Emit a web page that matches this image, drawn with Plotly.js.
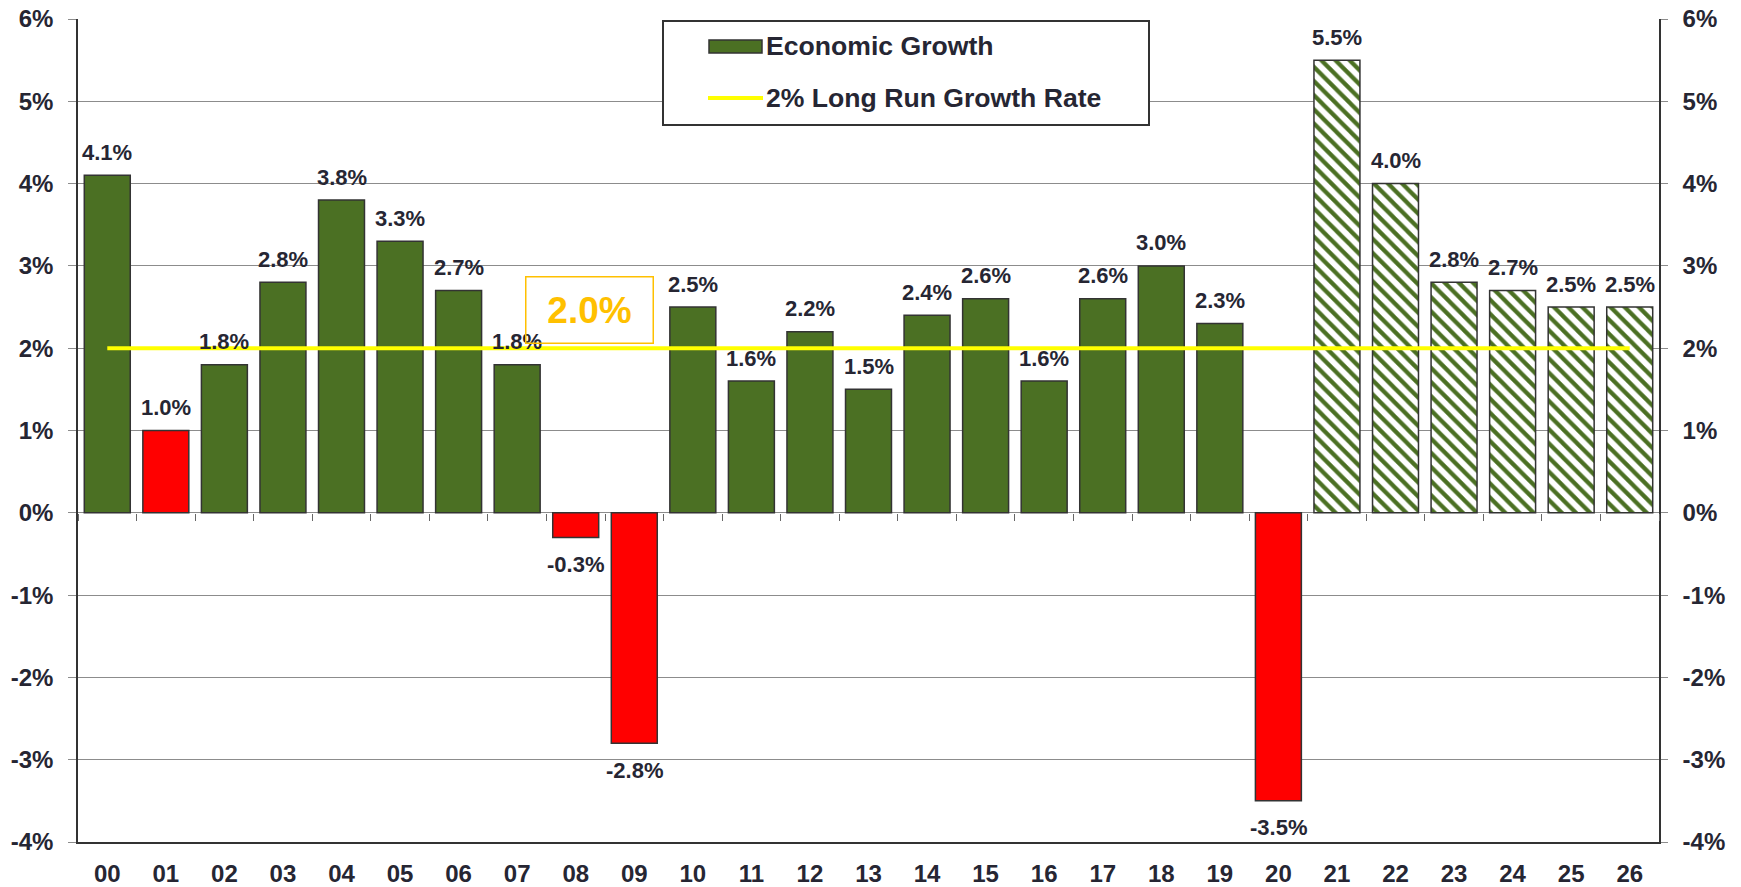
<!DOCTYPE html>
<html><head><meta charset="utf-8">
<script src="https://cdn.plot.ly/plotly-3.0.1.min.js"></script>
<style>html,body{margin:0;padding:0;background:#fff}#chart{width:1741px;height:887px}</style>
</head><body><div id="chart"></div>
<script>
// ---- data ----
const years = ['00','01','02','03','04','05','06','07','08','09','10','11','12','13','14','15','16','17','18','19','20','21','22','23','24','25','26'];
const growth = [4.1, 1.0, 1.8, 2.8, 3.8, 3.3, 2.7, 1.8, -0.3, -2.8, 2.5, 1.6, 2.2, 1.5, 2.4, 2.6, 1.6, 2.6, 3.0, 2.3, -3.5, 5.5, 4.0, 2.8, 2.7, 2.5, 2.5];
const recessionYears = ['01','08','09','20'];
const forecastYears = ['21','22','23','24','25','26'];
const longRunRate = 2.0;
const longRunLabel = '2.0%';
const seriesNames = ['Economic Growth', '2% Long Run Growth Rate'];
const yTickVals = [-4,-3,-2,-1,0,1,2,3,4,5,6];
const yTickText = ['-4%','-3%','-2%','-1%','0%','1%','2%','3%','4%','5%','6%'];

// ---- styles ----
const FONT = '"Liberation Sans", Arial, sans-serif';
const TXT = '#262633';
const GREEN = '#4b7023';
const RED = '#ff0000';
const GRID = '#8c8c8c';
const EDGE = '#333333';
const W = 1741, H = 887, ML = 78, MR = 82, MT = 19, MB = 45;
const px2x = p => (p - ML) / (W - ML - MR);
const px2y = p => (H - MB - p) / (H - MT - MB);

const histIdx = years.map((y, i) => i).filter(i => !forecastYears.includes(years[i]));
const fcIdx = years.map((y, i) => i).filter(i => forecastYears.includes(years[i]));

const traces = [
  {
    type: 'bar', name: seriesNames[0], showlegend: false,
    x: histIdx.map(i => years[i]), y: histIdx.map(i => growth[i]),
    marker: {
      color: histIdx.map(i => recessionYears.includes(years[i]) ? RED : GREEN),
      line: {color: EDGE, width: 1.5}
    },
    hoverinfo: 'x+y'
  },
  {
    type: 'bar', name: seriesNames[0] + ' (forecast)', showlegend: false,
    x: fcIdx.map(i => years[i]), y: fcIdx.map(i => growth[i]),
    marker: {
      color: GREEN,
      line: {color: EDGE, width: 1.5},
      pattern: {shape: '\\', fgcolor: GREEN, bgcolor: '#ffffff', size: 10, solidity: 0.42, fillmode: 'replace'}
    },
    hoverinfo: 'x+y'
  },
  {
    type: 'scatter', mode: 'lines', name: seriesNames[1], showlegend: false,
    x: [years[0], years[years.length - 1]], y: [longRunRate, longRunRate],
    line: {color: '#ffff00', width: 4}
  },
  {
    type: 'scatter', mode: 'none', x: years, y: growth, xaxis: 'x2', yaxis: 'y2',
    showlegend: false, hoverinfo: 'skip'
  }
];

const labelAnns = years.map((y, i) => ({
  x: y, y: growth[i], xref: 'x', yref: 'y',
  text: growth[i].toFixed(1) + '%',
  showarrow: false, yanchor: 'middle',
  yshift: growth[i] >= 0 ? 23 : -27,
  font: {family: FONT, size: 22, color: TXT, weight: 700}
}));

// legend (drawn box, swatches and texts)
const legendShapes = [
  {type: 'rect', xref: 'paper', yref: 'paper', x0: px2x(663), x1: px2x(1149), y0: px2y(125), y1: px2y(21),
   fillcolor: '#ffffff', line: {color: EDGE, width: 2}, layer: 'above'},
  {type: 'rect', xref: 'paper', yref: 'paper', x0: px2x(709), x1: px2x(762), y0: px2y(53), y1: px2y(40),
   fillcolor: GREEN, line: {color: EDGE, width: 1.5}, layer: 'above'},
  {type: 'line', xref: 'paper', yref: 'paper', x0: px2x(708), x1: px2x(763), y0: px2y(98), y1: px2y(98),
   line: {color: '#ffff00', width: 4}, layer: 'above'}
];
const legendAnns = seriesNames.map((n, k) => ({
  xref: 'paper', yref: 'paper', x: px2x(764), y: px2y(k === 0 ? 46 : 98),
  xanchor: 'left', yanchor: 'middle', text: n, showarrow: false,
  font: {family: FONT, size: 26.6, color: TXT, weight: 700}
}));

const layout = {
  width: W, height: H,
  margin: {l: ML, r: MR, t: MT, b: MB},
  paper_bgcolor: '#ffffff', plot_bgcolor: '#ffffff',
  font: {family: FONT, color: TXT},
  barmode: 'overlay',
  bargap: 0.215,
  showlegend: false,
  xaxis: {
    type: 'category', categoryorder: 'array', categoryarray: years, range: [-0.5, years.length - 0.5],
    showline: true, linecolor: EDGE, linewidth: 1.5, ticks: '', showgrid: false, zeroline: false,
    tickfont: {family: FONT, size: 24, color: TXT, weight: 700}, ticklabelstandoff: 9, fixedrange: true
  },
  xaxis2: {
    type: 'category', categoryorder: 'array', categoryarray: years, range: [-0.5, years.length - 0.5],
    overlaying: 'x', anchor: 'free', position: 0.4,
    tickson: 'boundaries', ticks: 'outside', ticklen: 7, tickcolor: '#666666', tickwidth: 1,
    showticklabels: false, showgrid: false, zeroline: false, showline: false, fixedrange: true
  },
  yaxis: {
    range: [-4, 6], tickmode: 'array', tickvals: yTickVals, ticktext: yTickText,
    showgrid: true, gridcolor: GRID, gridwidth: 1, zeroline: false,
    showline: true, linecolor: EDGE, linewidth: 1.5,
    ticks: 'outside', ticklen: 8, tickcolor: GRID, tickwidth: 1,
    tickfont: {family: FONT, size: 24, color: TXT, weight: 700}, ticklabelstandoff: 10, fixedrange: true
  },
  yaxis2: {
    range: [-4, 6], tickmode: 'array', tickvals: yTickVals, ticktext: yTickText,
    overlaying: 'y', side: 'right', anchor: 'x',
    showgrid: false, zeroline: false, showline: true, linecolor: EDGE, linewidth: 1.5,
    ticks: 'outside', ticklen: 7, tickcolor: GRID, tickwidth: 1,
    tickfont: {family: FONT, size: 24, color: TXT, weight: 700}, ticklabelstandoff: 10, fixedrange: true
  },
  shapes: legendShapes,
  annotations: labelAnns.concat(legendAnns, [{
    x: 8.24, y: 2.46, xref: 'x', yref: 'y', text: longRunLabel, showarrow: false,
    font: {family: FONT, size: 37, color: '#ffc000', weight: 700},
    bordercolor: '#ffc000', borderwidth: 1.5, borderpad: 1, width: 124, height: 63,
    bgcolor: 'rgba(255,255,255,0)'
  }])
};

Plotly.newPlot('chart', traces, layout, {displayModeBar: false});
</script>
</body></html>
